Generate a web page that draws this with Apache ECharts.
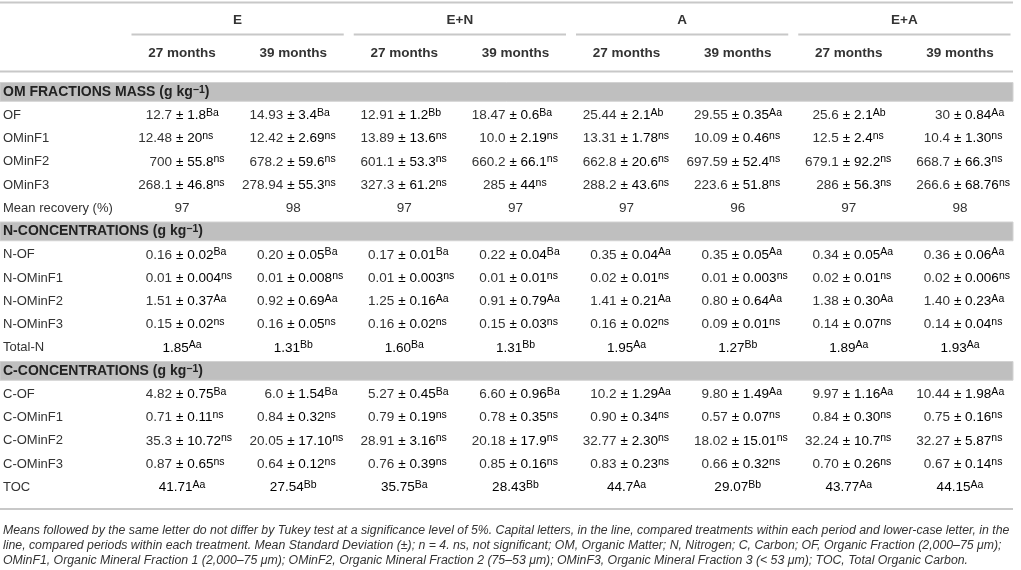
<!DOCTYPE html>
<html>
<head>
<meta charset="utf-8">
<title>OM fractions table</title>
<script src="https://cdn.jsdelivr.net/npm/echarts@6/dist/echarts.min.js"></script>
<style>
  html, body { margin: 0; padding: 0; background: #fff; }
  #main { width: 1021px; height: 570px; }
</style>
</head>
<body>
<div id="main"></div>
<script>
// 表格数据
var groups = ['E', 'E+N', 'A', 'E+A'];
var periods = ['27 months', '39 months', '27 months', '39 months', '27 months', '39 months', '27 months', '39 months'];
var rowLabels = [
    'OM FRACTIONS MASS', 'OF', 'OMinF1', 'OMinF2', 'OMinF3', 'Mean recovery (%)',
    'N-CONCENTRATIONS', 'N-OF', 'N-OMinF1', 'N-OMinF2', 'N-OMinF3', 'Total-N',
    'C-CONCENTRATIONS', 'C-OF', 'C-OMinF1', 'C-OMinF2', 'C-OMinF3', 'TOC'
];
var sectionRows = [0, 6, 12];

// mean, sd, letters (per column)
var OF = [['12.7', '1.8', 'Ba'], ['14.93', '3.4', 'Ba'], ['12.91', '1.2', 'Bb'], ['18.47', '0.6', 'Ba'], ['25.44', '2.1', 'Ab'], ['29.55', '0.35', 'Aa'], ['25.6', '2.1', 'Ab'], ['30', '0.84', 'Aa']];
var OMinF1 = [['12.48', '20', 'ns'], ['12.42', '2.69', 'ns'], ['13.89', '13.6', 'ns'], ['10.0', '2.19', 'ns'], ['13.31', '1.78', 'ns'], ['10.09', '0.46', 'ns'], ['12.5', '2.4', 'ns'], ['10.4', '1.30', 'ns']];
var OMinF2 = [['700', '55.8', 'ns'], ['678.2', '59.6', 'ns'], ['601.1', '53.3', 'ns'], ['660.2', '66.1', 'ns'], ['662.8', '20.6', 'ns'], ['697.59', '52.4', 'ns'], ['679.1', '92.2', 'ns'], ['668.7', '66.3', 'ns']];
var OMinF3 = [['268.1', '46.8', 'ns'], ['278.94', '55.3', 'ns'], ['327.3', '61.2', 'ns'], ['285', '44', 'ns'], ['288.2', '43.6', 'ns'], ['223.6', '51.8', 'ns'], ['286', '56.3', 'ns'], ['266.6', '68.76', 'ns']];
var recovery = [['97'], ['98'], ['97'], ['97'], ['97'], ['96'], ['97'], ['98']];

var N_OF = [['0.16', '0.02', 'Ba'], ['0.20', '0.05', 'Ba'], ['0.17', '0.01', 'Ba'], ['0.22', '0.04', 'Ba'], ['0.35', '0.04', 'Aa'], ['0.35', '0.05', 'Aa'], ['0.34', '0.05', 'Aa'], ['0.36', '0.06', 'Aa']];
var N_OMinF1 = [['0.01', '0.004', 'ns'], ['0.01', '0.008', 'ns'], ['0.01', '0.003', 'ns'], ['0.01', '0.01', 'ns'], ['0.02', '0.01', 'ns'], ['0.01', '0.003', 'ns'], ['0.02', '0.01', 'ns'], ['0.02', '0.006', 'ns']];
var N_OMinF2 = [['1.51', '0.37', 'Aa'], ['0.92', '0.69', 'Aa'], ['1.25', '0.16', 'Aa'], ['0.91', '0.79', 'Aa'], ['1.41', '0.21', 'Aa'], ['0.80', '0.64', 'Aa'], ['1.38', '0.30', 'Aa'], ['1.40', '0.23', 'Aa']];
var N_OMinF3 = [['0.15', '0.02', 'ns'], ['0.16', '0.05', 'ns'], ['0.16', '0.02', 'ns'], ['0.15', '0.03', 'ns'], ['0.16', '0.02', 'ns'], ['0.09', '0.01', 'ns'], ['0.14', '0.07', 'ns'], ['0.14', '0.04', 'ns']];
var totalN = [['1.85', null, 'Aa'], ['1.31', null, 'Bb'], ['1.60', null, 'Ba'], ['1.31', null, 'Bb'], ['1.95', null, 'Aa'], ['1.27', null, 'Bb'], ['1.89', null, 'Aa'], ['1.93', null, 'Aa']];

var C_OF = [['4.82', '0.75', 'Ba'], ['6.0', '1.54', 'Ba'], ['5.27', '0.45', 'Ba'], ['6.60', '0.96', 'Ba'], ['10.2', '1.29', 'Aa'], ['9.80', '1.49', 'Aa'], ['9.97', '1.16', 'Aa'], ['10.44', '1.98', 'Aa']];
var C_OMinF1 = [['0.71', '0.11', 'ns'], ['0.84', '0.32', 'ns'], ['0.79', '0.19', 'ns'], ['0.78', '0.35', 'ns'], ['0.90', '0.34', 'ns'], ['0.57', '0.07', 'ns'], ['0.84', '0.30', 'ns'], ['0.75', '0.16', 'ns']];
var C_OMinF2 = [['35.3', '10.72', 'ns'], ['20.05', '17.10', 'ns'], ['28.91', '3.16', 'ns'], ['20.18', '17.9', 'ns'], ['32.77', '2.30', 'ns'], ['18.02', '15.01', 'ns'], ['32.24', '10.7', 'ns'], ['32.27', '5.87', 'ns']];
var C_OMinF3 = [['0.87', '0.65', 'ns'], ['0.64', '0.12', 'ns'], ['0.76', '0.39', 'ns'], ['0.85', '0.16', 'ns'], ['0.83', '0.23', 'ns'], ['0.66', '0.32', 'ns'], ['0.70', '0.26', 'ns'], ['0.67', '0.14', 'ns']];
var TOC = [['41.71', null, 'Aa'], ['27.54', null, 'Bb'], ['35.75', null, 'Ba'], ['28.43', null, 'Bb'], ['44.7', null, 'Aa'], ['29.07', null, 'Bb'], ['43.77', null, 'Aa'], ['44.15', null, 'Aa']];

var rowData = [
    null, OF, OMinF1, OMinF2, OMinF3, recovery,
    null, N_OF, N_OMinF1, N_OMinF2, N_OMinF3, totalN,
    null, C_OF, C_OMinF1, C_OMinF2, C_OMinF3, TOC
];

var footnote = [
    'Means followed by the same letter do not differ by Tukey test at a significance level of 5%. Capital letters, in the line, compared treatments within each period and lower-case letter, in the',
    'line, compared periods within each treatment. Mean Standard Deviation (\u00b1); n = 4. ns, not significant; OM, Organic Matter; N, Nitrogen; C, Carbon; OF, Organic Fraction (2,000\u201375 \u03bcm);',
    'OMinF1, Organic Mineral Fraction 1 (2,000\u201375 \u03bcm); OMinF2, Organic Mineral Fraction 2 (75\u201353 \u03bcm); OMinF3, Organic Mineral Fraction 3 (< 53 \u03bcm); TOC, Total Organic Carbon.'
];

// 布局
var FONT = '"Liberation Sans", Arial, Helvetica, sans-serif';
var TXT = '#333333';
var RULE = '#c8c8c8';
var BAND = '#bfbfbf';
var gridLeft = 126.5, gridRight = 5.5, gridTop = 80.5, rowH = 23.25;
var gridBottom = 570 - gridTop - rowH * rowLabels.length;

var myChart = echarts.init(document.getElementById('main'));

var cells = [];
rowData.forEach(function (row, r) {
    if (row === null) {
        cells.push([0, r, 'band']);
    } else {
        row.forEach(function (c, i) { cells.push([i, r, 'cell']); });
    }
});

var supStyle = { fontSize: 10.5, fontFamily: FONT, color: TXT, verticalAlign: 'top', lineHeight: 16 };
var numStyle = { fontSize: 13.5, fontFamily: FONT, color: TXT, lineHeight: 16 };

function renderCell(params, api) {
    var col = api.value(0), r = api.value(1);
    var type = cells[params.dataIndex][2];
    var cs = params.coordSys;
    var p = api.coord([col, r]);
    if (type === 'band') {
        return {
            type: 'rect',
            shape: { x: 0, y: p[1] - rowH / 2 + 2, width: cs.x + cs.width - 2.5, height: rowH - 4.5 },
            style: { fill: BAND, stroke: '#d2d2d2', lineWidth: 1 }
        };
    }
    var v = rowData[r][col];
    if (v.length === 1) {
        return {
            type: 'text', x: p[0], y: p[1],
            style: { text: v[0], align: 'center', verticalAlign: 'middle', font: '13.5px ' + FONT, fill: TXT }
        };
    }
    if (v[1] === null) {
        return {
            type: 'text', x: p[0], y: p[1],
            style: {
                text: '{n|' + v[0] + '}{s|' + v[2] + '}',
                align: 'center', verticalAlign: 'middle',
                rich: { n: numStyle, s: supStyle }
            }
        };
    }
    // 以 ± 对齐
    var pm = p[0] - 6;
    return {
        type: 'group',
        children: [{
            type: 'text', x: pm - 4, y: p[1],
            style: { text: v[0], align: 'right', verticalAlign: 'middle', font: '13.5px ' + FONT, fill: TXT }
        }, {
            type: 'text', x: pm, y: p[1],
            style: {
                text: '{n|\u00b1 ' + v[1] + '}{s|' + v[2] + '}',
                align: 'left', verticalAlign: 'middle',
                rich: { n: numStyle, s: supStyle }
            }
        }]
    };
}

function renderGroupLine(params, api) {
    var p = api.coord([api.value(0), 0]);
    var w = api.size([1, 0])[0];
    var y = params.coordSys.y - 46;
    return {
        type: 'line',
        shape: { x1: p[0] - w / 2 + 5, y1: y, x2: p[0] + w / 2 - 5, y2: y },
        style: { stroke: RULE, lineWidth: 2 }
    };
}

var bottomRule = 570 - gridBottom + 10;

var option = {
    backgroundColor: '#ffffff',
    animation: false,
    textStyle: { fontFamily: FONT, color: TXT },
    title: {
        left: 3,
        top: bottomRule + 14,
        padding: 0,
        text: footnote.join('\n'),
        textStyle: { fontSize: 12.3, fontStyle: 'italic', fontWeight: 'normal', color: TXT, lineHeight: 15, fontFamily: FONT }
    },
    grid: { left: gridLeft, right: gridRight, top: gridTop, bottom: gridBottom, containLabel: false },
    xAxis: [{
        type: 'category',
        position: 'top',
        data: periods,
        axisLine: { show: false },
        axisTick: { show: false },
        axisLabel: { margin: 20, fontSize: 13.5, fontWeight: 'bold', color: TXT, fontFamily: FONT, interval: 0 }
    }, {
        type: 'category',
        position: 'top',
        data: groups,
        axisLine: { show: false },
        axisTick: { show: false },
        axisLabel: { margin: 53, fontSize: 13.5, fontWeight: 'bold', color: TXT, fontFamily: FONT, interval: 0 }
    }],
    yAxis: {
        type: 'category',
        inverse: true,
        data: rowLabels,
        z: 10,
        axisLine: { show: false },
        axisTick: { show: false },
        axisLabel: {
            align: 'left',
            margin: gridLeft - 3,
            interval: 0,
            fontSize: 13,
            color: TXT,
            fontFamily: FONT,
            formatter: function (val, idx) {
                if (sectionRows.indexOf(idx) >= 0) {
                    return '{h|' + val + ' (g kg}{hs|\u22121}{h|)}';
                }
                return val;
            },
            rich: {
                h: { fontSize: 14, fontWeight: 'bold', color: '#222', fontFamily: FONT, lineHeight: 16 },
                hs: { fontSize: 10.5, fontWeight: 'bold', color: '#222', fontFamily: FONT, verticalAlign: 'top', lineHeight: 16 }
            }
        }
    },
    graphic: [
        { type: 'line', shape: { x1: 0, y1: 2.5, x2: 1013, y2: 2.5 }, style: { stroke: RULE, lineWidth: 2 } },
        { type: 'line', shape: { x1: 0, y1: gridTop - 9, x2: 1013, y2: gridTop - 9 }, style: { stroke: RULE, lineWidth: 2 } },
        { type: 'line', shape: { x1: 0, y1: bottomRule, x2: 1013, y2: bottomRule }, style: { stroke: RULE, lineWidth: 2 } }
    ],
    series: [{
        type: 'custom',
        name: 'cells',
        xAxisIndex: 0,
        yAxisIndex: 0,
        z: 2,
        renderItem: renderCell,
        data: cells.map(function (c) { return [c[0], c[1]]; })
    }, {
        type: 'custom',
        name: 'groupLines',
        xAxisIndex: 1,
        yAxisIndex: 0,
        clip: false,
        renderItem: renderGroupLine,
        data: groups.map(function (g, i) { return [i, 0]; })
    }]
};

myChart.setOption(option);
</script>
</body>
</html>
